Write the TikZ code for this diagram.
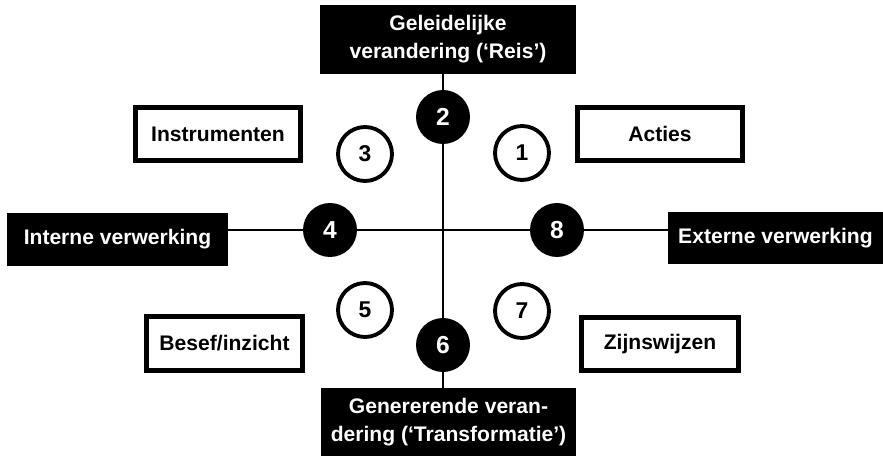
\documentclass[tikz,border=0pt]{standalone}
\usepackage{fontspec}
\setmainfont{Liberation Sans}
\begin{document}
\begin{tikzpicture}[x=0.02cm,y=-0.02cm]

      \useasboundingbox (0,0) rectangle (883,456);

      \begin{scope}[every node/.style={fill=black, text=white, align=center, inner sep=0pt,
          font=\bfseries\fontsize{12}{16}\selectfont}]
        \node[minimum width=5.12cm, minimum height=1.38cm] (reis)   at (448,39.5)  {Geleidelijke\\verandering (‘Reis’)};
        \node[minimum width=5.10cm, minimum height=1.36cm] (trans)  at (448.5,422) {Genererende veran-\\dering (‘Transformatie’)};
        \node[minimum width=4.42cm, minimum height=1.06cm] (intern) at (117.5,239.5) {Interne verwerking};
        \node[minimum width=4.30cm, minimum height=1.04cm] (extern) at (775.5,238) {Externe verwerking};
      \end{scope}

      \begin{scope}[every node/.style={draw, line width=2.6pt, fill=white, inner sep=0pt,
          minimum width=3.3cm, minimum height=1.07cm, font=\bfseries\fontsize{12}{14}\selectfont}]
        \node (instr) at (218,134)   {Instrumenten};
        \node (acties) at (660,134)  {Acties};
        \node[minimum width=3.13cm] (besef) at (224.5,343.5) {Besef/inzicht};
        \node[minimum width=3.13cm] (zijn)  at (660,344)     {Zijnswijzen};
      \end{scope}

      \begin{scope}[every node/.style={circle, fill=black, text=white, inner sep=0pt,
          minimum size=1.08cm, font=\bfseries\fontsize{14}{14}\selectfont}]
        \node (2) at (443,117) {2};
        \node (4) at (330,230) {4};
        \node (8) at (557,230) {8};
        \node (6) at (443,345) {6};
      \end{scope}

      \begin{scope}[every node/.style={circle, draw, line width=2.2pt, fill=white, inner sep=0pt,
          minimum size=1.08cm, font=\bfseries\fontsize{13}{13}\selectfont}]
        \node (3) at (365,154) {3};
        \node (1) at (522,153) {1};
        \node (5) at (365,310) {5};
        \node (7) at (522,311) {7};
      \end{scope}

      \begin{scope}[every edge/.style={draw, line width=0.7pt}]
        \path (2) edge (2 |- reis.south);
        \path (2) edge (6);
        \path (6) edge (6 |- trans.north);
        \path (4) edge (4 -| intern.east);
        \path (4) edge (8);
        \path (8) edge (8 -| extern.west);
      \end{scope}

    \end{tikzpicture}
\end{document}
